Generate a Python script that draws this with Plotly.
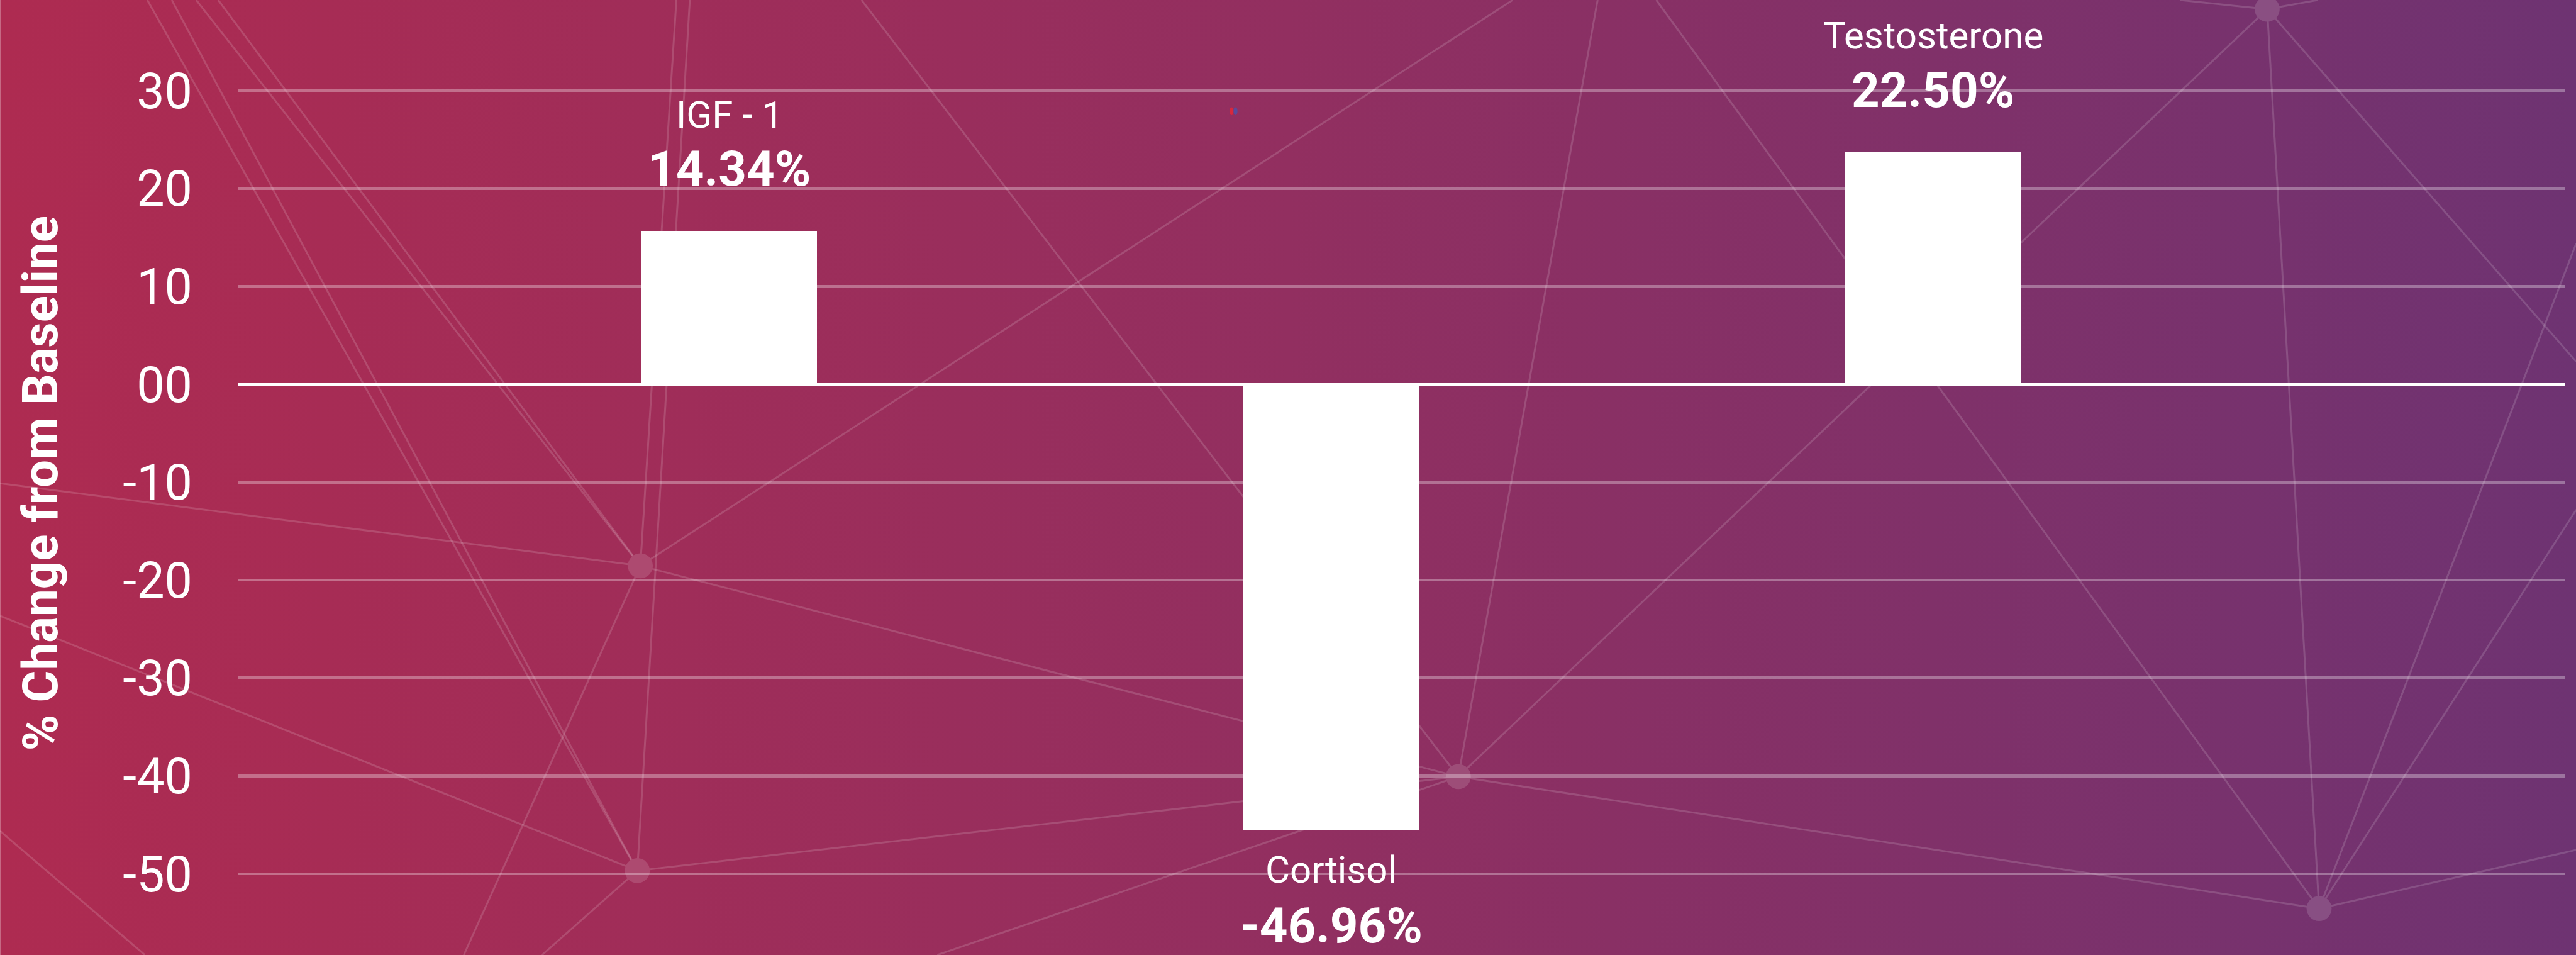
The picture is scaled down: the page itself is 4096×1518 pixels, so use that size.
import base64
import plotly.graph_objects as go

# ---------------- data ----------------
categories = ["IGF - 1", "Cortisol", "Testosterone"]
bar_values = [15.67, -45.57, 23.72]          # bar ends read against the axis
pct_labels = ["14.34%", "-46.96%", "22.50%"]  # printed values
tick_vals = [30, 20, 10, 0, -10, -20, -30, -40, -50]
tick_text = ["30", "20", "10", "00", "-10", "-20", "-30", "-40", "-50"]
y_title = "% Change from Baseline"

# ---------------- canvas geometry ----------------
W, H = 4096, 1518
REF_W, REF_H = 4217, 1563
SX, SY = W / REF_W, H / REF_H
L = 390 * SX
R = (REF_W - 4198) * SX
PW = W - L - R

def px(X, Y):
    """reference-pixel -> paper coords"""
    return (X * SX - L) / PW, 1 - (Y * SY) / H

# gradient background
STOPS = [(0.0, (174, 43, 81)), (0.5, (146, 47, 96)), (1.0, (110, 51, 114))]

def grad(t):
    for (a, ca), (b, cb) in zip(STOPS[:-1], STOPS[1:]):
        if a <= t <= b:
            f = (t - a) / (b - a)
            return tuple(ca[i] + (cb[i] - ca[i]) * f for i in range(3))
    return STOPS[-1][1]

stops_svg = "".join(
    f'<stop offset="{o}" stop-color="rgb{c}"/>' for o, c in STOPS
)
svg = (
    f'<svg xmlns="http://www.w3.org/2000/svg" width="{W}" height="{H}" '
    f'viewBox="0 0 {W} {H}" preserveAspectRatio="none">'
    f'<defs><linearGradient id="g" x1="0" y1="0" x2="1" y2="0">{stops_svg}'
    f'</linearGradient></defs><rect x="0" y="0" width="{W}" height="{H}" fill="url(#g)"/></svg>'
)
svg_uri = "data:image/svg+xml;base64," + base64.b64encode(svg.encode()).decode()

# decorative network (reference pixel coordinates)
NODES = {
    "N1": (1048, 926),
    "N2": (1043, 1425),
    "N3": (2387, 1271),
    "N4": (3711, 15),
    "N5": (3796, 1487),
}
EDGES = [
    ((241, 0), "N2"), ((281, 0), "N2"), ((321, 0), "N1"), ((357, 0), "N1"),
    ((1107, 0), "N1"), ((1129, 0), "N2"), ((0, 791), "N1"), ((0, 1008), "N2"),
    ((0, 1360), (237, 1563)), ("N1", (759, 1563)), ("N1", (2476, 0)),
    ("N1", "N3"), ("N2", "N3"), ("N2", (887, 1563)), ((1410, 0), "N3"),
    ((2615, 0), "N3"), ("N3", "N4"), ("N3", "N5"), ("N3", (1534, 1563)),
    ((3568, 0), "N4"), ("N4", (3794, 0)), ("N4", "N5"), ("N4", (4217, 592)),
    ((2711, 0), "N5"), ((4217, 398), "N5"), ((4217, 834), "N5"),
    ("N5", (4217, 1391)),
]
NODE_D = 41

shapes = []
for a, b in EDGES:
    pa = NODES[a] if isinstance(a, str) else a
    pb = NODES[b] if isinstance(b, str) else b
    x0, y0 = px(*pa)
    x1, y1 = px(*pb)
    shapes.append(dict(type="line", xref="paper", yref="paper",
                       x0=x0, y0=y0, x1=x1, y1=y1, layer="below",
                       line=dict(color="rgba(255,255,255,0.15)", width=3)))
for name, (X, Y) in NODES.items():
    c = grad(X / REF_W)
    fc = tuple(int(round(c[i] + (255 - c[i]) * 0.14)) for i in range(3))
    x0, y0 = px(X - NODE_D / 2, Y - NODE_D / 2)
    x1, y1 = px(X + NODE_D / 2, Y + NODE_D / 2)
    shapes.append(dict(type="circle", xref="paper", yref="paper",
                       x0=x0, y0=y0, x1=x1, y1=y1, layer="below",
                       fillcolor=f"rgb{fc}", line=dict(width=0)))
# tiny red/blue dot
dx0, dy0 = px(2012.5, 175.5)
dx1, dy1 = px(2025.5, 188.5)
shapes.append(dict(type="circle", xref="paper", yref="paper",
                   x0=dx0, y0=dy0, x1=(dx0 + dx1) / 2, y1=dy1, layer="above",
                   fillcolor="#d8283c", line=dict(width=0)))
shapes.append(dict(type="circle", xref="paper", yref="paper",
                   x0=(dx0 + dx1) / 2, y0=dy0, x1=dx1, y1=dy1, layer="above",
                   fillcolor="#5a4a9a", line=dict(width=0)))

# ---------------- figure ----------------
fig = go.Figure()
fig.add_trace(go.Bar(
    x=categories, y=bar_values, width=0.2923,
    marker=dict(color="white", line=dict(width=0)),
    hoverinfo="skip",
))

PX_PER_UNIT = 16.02 * SY
annotations = []
for cat, v, pct in zip(categories, bar_values, pct_labels):
    if v >= 0:
        name_shift, pct_shift = 11.9 * PX_PER_UNIT, 6.35 * PX_PER_UNIT
    else:
        name_shift, pct_shift = -4.05 * PX_PER_UNIT, -9.73 * PX_PER_UNIT
    annotations.append(dict(x=cat, y=v, xref="x", yref="y", text=cat,
                            showarrow=False, yshift=name_shift,
                            xanchor="center", yanchor="middle",
                            font=dict(family="Roboto", size=60, color="white")))
    annotations.append(dict(x=cat, y=v, xref="x", yref="y", text=pct,
                            showarrow=False, yshift=pct_shift,
                            xanchor="center", yanchor="middle",
                            font=dict(family="Roboto", size=78, color="white",
                                      weight="bold")))
tx, ty = px(66, 791)
annotations.append(dict(x=tx, y=ty, xref="paper", yref="paper", text=y_title,
                        showarrow=False, textangle=-90,
                        xanchor="center", yanchor="middle",
                        font=dict(family="Roboto", size=78, color="white",
                                  weight="bold")))

fig.update_layout(
    width=W, height=H,
    margin=dict(l=L, r=R, t=0, b=0, pad=0),
    paper_bgcolor="rgba(0,0,0,0)",
    plot_bgcolor="rgba(0,0,0,0)",
    showlegend=False,
    bargap=0,
    images=[dict(source=svg_uri, xref="paper", yref="paper",
                 x=-L / PW, y=1, sizex=W / PW, sizey=1,
                 xanchor="left", yanchor="top", sizing="stretch",
                 layer="below")],
    shapes=shapes,
    annotations=annotations,
    xaxis=dict(range=[-0.8156, 3.0494], showticklabels=False, showgrid=False,
               zeroline=False, showline=False, fixedrange=True),
    yaxis=dict(range=[-58.30, 39.27], tickvals=tick_vals, ticktext=tick_text,
               showgrid=True, gridcolor="rgba(255,255,255,0.32)", gridwidth=4.5,
               zeroline=True, zerolinecolor="white", zerolinewidth=5,
               showline=False, ticks="", ticklabelstandoff=72, automargin=False,
               tickfont=dict(family="Roboto", size=79, color="white"),
               fixedrange=True),
    font=dict(family="Roboto", color="white"),
)

fig.write_html(
    "out.html",
    config={"displayModeBar": False, "staticPlot": True},
    post_script="document.body.style.margin='0';"
                "document.body.style.overflow='hidden';",
)
